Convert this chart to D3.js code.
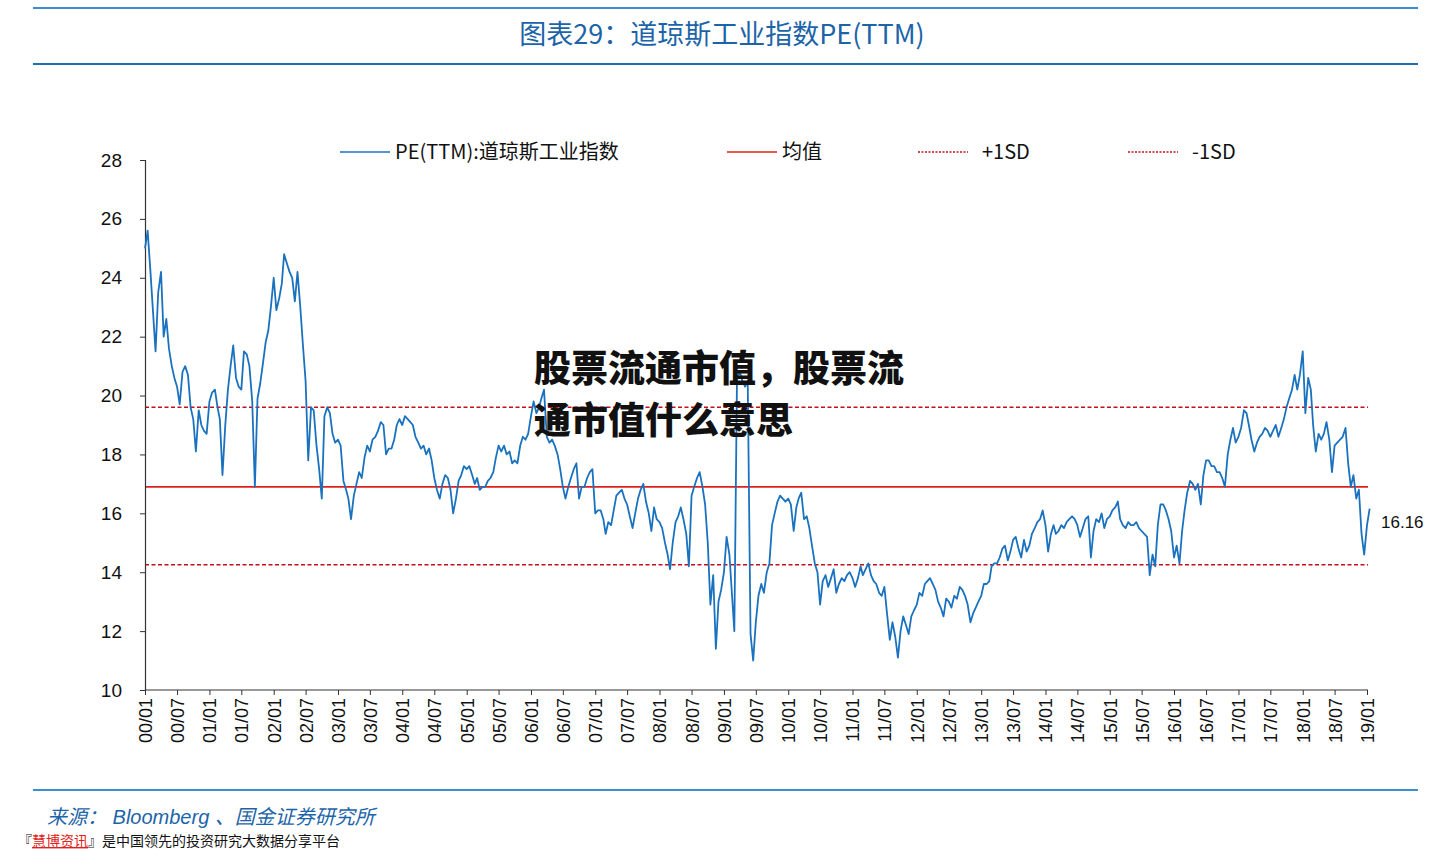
<!DOCTYPE html>
<html><head><meta charset="utf-8">
<script src="https://cdn.jsdelivr.net/npm/d3@7"></script>
<style>
html,body{margin:0;padding:0;background:#fff;}
svg{display:block;}
</style></head>
<body>
<svg id="chart" width="1440" height="849"></svg>
<script>
// ---------- data ----------
const titleText = "图表29：道琼斯工业指数PE(TTM)";
const legendLabels = ["PE(TTM):道琼斯工业指数", "均值", "+1SD", "-1SD"];
const sourceText = "来源： Bloomberg 、国金证券研究所";
const overlayLines = ["股票流通市值，股票流", "通市值什么意思"];
const yTicks = [10, 12, 14, 16, 18, 20, 22, 24, 26, 28];
const startDate = "2000-01-01";   // half-monthly observations (1st and 16th)
const endTickDate = "2019-01-01";
const meanValue = 16.9;
const plus1SD = 19.6;
const minus1SD = 14.25;
const lastValue = 16.16;

// PE(TTM), two readings per month
const peValues = [
  // 2000
  25.0, 25.6, 24.2, 22.8, 21.5, 23.5, 24.2, 22.0, 22.6, 21.6, 21.0, 20.6, 20.3, 19.7, 20.8, 21.0, 20.7, 19.6, 19.2, 18.1, 19.5, 19.0, 18.8, 18.7,
  // 2001
  19.8, 20.1, 20.2, 19.6, 19.2, 17.3, 19.0, 20.2, 21.0, 21.7, 20.6, 20.3, 20.2, 21.5, 21.4, 21.0, 19.8, 16.9, 19.9, 20.4, 21.1, 21.8, 22.2, 23.0,
  // 2002
  24.0, 22.9, 23.3, 23.8, 24.8, 24.5, 24.2, 24.0, 23.2, 24.2, 23.0, 21.7, 20.5, 17.8, 19.6, 19.5, 18.3, 17.5, 16.5, 19.3, 19.6, 19.4, 18.7, 18.4,
  // 2003
  18.5, 18.3, 17.1, 16.8, 16.5, 15.8, 16.6, 17.0, 17.4, 17.2, 17.9, 18.3, 18.1, 18.5, 18.6, 18.8, 19.1, 19.0, 18.0, 18.2, 18.2, 18.5, 19.0, 19.2,
  // 2004
  19.0, 19.3, 19.2, 19.1, 19.0, 18.6, 18.4, 18.2, 18.3, 18.0, 18.2, 17.8, 17.2, 16.8, 16.5, 17.0, 17.3, 17.2, 16.8, 16.0, 16.5, 17.1, 17.3, 17.6,
  // 2005
  17.5, 17.6, 17.3, 17.0, 17.2, 16.8, 16.9, 16.9, 17.1, 17.2, 17.4, 17.9, 18.3, 18.1, 18.3, 18.0, 18.1, 17.7, 17.8, 17.7, 18.3, 18.6, 18.5, 18.7,
  // 2006
  19.3, 19.8, 19.4, 19.6, 19.9, 20.2, 18.6, 18.4, 18.5, 18.3, 18.0, 17.5, 16.9, 16.5, 16.9, 17.2, 17.5, 17.7, 16.5, 16.9, 16.9, 17.2, 17.4, 17.5,
  // 2007
  16.0, 16.1, 16.1, 15.8, 15.3, 15.7, 15.6, 16.1, 16.6, 16.7, 16.8, 16.5, 16.3, 15.9, 15.5, 16.0, 16.5, 16.8, 17.0, 16.4, 16.0, 15.4, 16.2, 15.8,
  // 2008
  15.7, 15.5, 15.0, 14.6, 14.1, 15.0, 15.7, 15.9, 16.2, 15.8, 15.3, 14.2, 16.6, 16.9, 17.2, 17.4, 16.9, 16.3, 15.0, 12.9, 13.9, 11.4, 13.0, 13.4,
  // 2009
  14.0, 15.2, 14.6, 13.2, 12.0, 20.6, 20.8, 20.5, 20.3, 20.5, 11.9, 11.0, 12.3, 13.2, 13.6, 13.3, 14.0, 14.3, 15.6, 16.0, 16.4, 16.6, 16.5, 16.4,
  // 2010
  16.5, 16.3, 15.4, 16.2, 16.5, 16.7, 15.8, 15.9, 15.5, 14.9, 14.3, 14.0, 12.9, 13.7, 13.9, 13.5, 13.8, 14.1, 13.3, 13.6, 13.8, 13.7, 13.9, 14.0,
  // 2011
  13.8, 13.5, 13.8, 14.2, 13.9, 14.1, 14.3, 13.9, 13.7, 13.6, 13.3, 13.2, 13.5, 12.6, 11.7, 12.3, 11.8, 11.1, 12.0, 12.5, 12.2, 11.9, 12.5, 12.7,
  // 2012
  12.9, 13.3, 13.2, 13.6, 13.7, 13.8, 13.6, 13.4, 13.0, 12.8, 12.5, 13.1, 13.0, 12.8, 13.2, 13.1, 13.5, 13.4, 13.2, 12.9, 12.3, 12.6, 12.8, 13.0,
  // 2013
  13.2, 13.6, 13.6, 13.7, 14.2, 14.3, 14.3, 14.5, 14.8, 14.9, 14.4, 14.7, 15.1, 15.2, 14.8, 14.5, 15.1, 14.7, 14.9, 15.3, 15.5, 15.7, 15.8, 16.1,
  // 2014
  15.6, 14.7, 15.3, 15.6, 15.3, 15.4, 15.6, 15.5, 15.7, 15.8, 15.9, 15.8, 15.6, 15.2, 15.5, 15.8, 15.9, 14.5, 15.4, 15.8, 15.7, 16.0, 15.5, 15.8,
  // 2015
  15.9, 16.1, 16.2, 16.4, 15.8, 15.6, 15.5, 15.7, 15.6, 15.6, 15.7, 15.5, 15.4, 15.3, 15.2, 13.9, 14.6, 14.2, 15.6, 16.3, 16.3, 16.1, 15.8, 15.4,
  // 2016
  14.5, 14.9, 14.3, 15.4, 16.1, 16.7, 17.1, 17.0, 16.8, 17.0, 16.3, 17.3, 17.8, 17.8, 17.6, 17.6, 17.4, 17.4, 17.2, 16.9, 18.0, 18.5, 18.9, 18.4,
  // 2017
  18.6, 18.9, 19.5, 19.4, 19.0, 18.5, 18.1, 18.4, 18.6, 18.7, 18.9, 18.8, 18.6, 18.8, 19.0, 18.6, 18.9, 19.2, 19.6, 19.9, 20.2, 20.7, 20.2, 20.7,
  // 2018
  21.5, 19.4, 20.6, 20.2, 19.0, 18.1, 18.7, 18.5, 18.7, 19.1, 18.5, 17.4, 18.3, 18.4, 18.5, 18.6, 18.9, 17.7, 16.9, 17.3, 16.5, 16.8, 15.3, 14.6,
  // 2019
  15.6, 16.16
];

// ---------- drawing ----------
const svg = d3.select("#chart");
const margin = {left: 145, right: 1368, top: 160, bottom: 690};

const t0 = d3.isoParse(startDate + "T00:00:00");
const dates = peValues.map((v, i) => new Date(t0.getFullYear() + Math.floor(i / 24), Math.floor((i % 24) / 2), (i % 2) ? 16 : 1));
const data = dates.map((d, i) => ({date: d, pe: peValues[i]}));

const x = d3.scaleTime()
  .domain([t0, d3.isoParse(endTickDate + "T00:00:00")])
  .range([margin.left, 1367]);
const y = d3.scaleLinear().domain([10, 28]).range([margin.bottom, margin.top]);

const blueDark = "#1c64a8";
const fontLatin = "'Liberation Sans', Arial, 'Noto Sans CJK SC', sans-serif";

// header rules
svg.append("line").attr("x1", 33).attr("x2", 1418).attr("y1", 8).attr("y2", 8)
  .attr("stroke", "#3b8fd0").attr("stroke-width", 2);
svg.append("line").attr("x1", 33).attr("x2", 1418).attr("y1", 64).attr("y2", 64)
  .attr("stroke", "#1f6fae").attr("stroke-width", 2);
svg.append("text").attr("x", 722).attr("y", 44).attr("text-anchor", "middle")
  .attr("font-family", "'Liberation Sans Narrow', 'Noto Sans CJK SC', sans-serif")
  .attr("font-size", 27).attr("fill", blueDark).text(titleText);

// reference lines
const refG = svg.append("g");
refG.append("line").attr("x1", margin.left).attr("x2", margin.right)
  .attr("y1", y(meanValue)).attr("y2", y(meanValue))
  .attr("stroke", "#e0201c").attr("stroke-width", 1.7);
[plus1SD, minus1SD].forEach(v => {
  refG.append("line").attr("x1", margin.left).attr("x2", margin.right)
    .attr("y1", y(v)).attr("y2", y(v))
    .attr("stroke", "#c0101a").attr("stroke-width", 1.5).attr("stroke-dasharray", "4,2.5");
});

// axes
const yAxis = svg.append("g").attr("transform", `translate(${margin.left},0)`)
  .call(d3.axisLeft(y).tickValues(yTicks).tickSize(5).tickPadding(18).tickFormat(d3.format("d")));
yAxis.selectAll("text").attr("font-family", fontLatin).attr("font-size", 19).attr("fill", "#111");
yAxis.select(".domain").attr("stroke", "#333").attr("stroke-width", 1.2);
yAxis.selectAll(".tick line").attr("stroke", "#333");

const xTicks = d3.timeMonth.every(6).range(t0, d3.timeDay.offset(x.domain()[1], 1));
const xAxis = svg.append("g").attr("transform", `translate(0,${margin.bottom})`)
  .call(d3.axisBottom(x).tickValues(xTicks).tickSize(5).tickFormat(d3.timeFormat("%y/%m")));
xAxis.select(".domain").attr("stroke", "#333").attr("stroke-width", 1.2)
  .attr("d", `M${margin.left},0H${margin.right}`);
xAxis.selectAll(".tick line").attr("stroke", "#333");
xAxis.selectAll("text")
  .attr("font-family", fontLatin).attr("font-size", 18).attr("fill", "#111")
  .attr("transform", "rotate(-90)").attr("text-anchor", "end")
  .attr("x", -8).attr("y", 0).attr("dy", "0.36em");

// series line
const line = d3.line().x(d => x(d.date)).y(d => y(d.pe));
svg.append("path").datum(data).attr("d", line)
  .attr("fill", "none").attr("stroke", "#1a72bf").attr("stroke-width", 1.8)
  .attr("stroke-linejoin", "round");

// last value label
svg.append("text").attr("x", 1381).attr("y", y(lastValue) + 19)
  .attr("font-family", fontLatin).attr("font-size", 17).attr("fill", "#111")
  .text(d3.format(".2f")(lastValue));

// legend
const legendItems = [
  {x: 340, label: legendLabels[0], color: "#1a72bf", dash: null, w: 1.6},
  {x: 727, label: legendLabels[1], color: "#e0201c", dash: null, w: 1.6},
  {x: 918, label: legendLabels[2], color: "#c0101a", dash: "2,1.5", w: 1.3},
  {x: 1128, label: legendLabels[3], color: "#c0101a", dash: "2,1.5", w: 1.3}
];
const lg = svg.append("g");
legendItems.forEach(it => {
  lg.append("line").attr("x1", it.x).attr("x2", it.x + 50).attr("y1", 152).attr("y2", 152)
    .attr("stroke", it.color).attr("stroke-width", it.w).attr("stroke-dasharray", it.dash);
  lg.append("text").attr("x", it.x + 55 + (it.dash ? 9 : 0)).attr("y", 159)
    .attr("font-family", "'Liberation Sans Narrow', 'Noto Sans CJK SC', sans-serif")
    .attr("font-size", 20).attr("fill", "#111").text(it.label);
});

// footer
svg.append("line").attr("x1", 33).attr("x2", 1418).attr("y1", 790).attr("y2", 790)
  .attr("stroke", "#3b8fd0").attr("stroke-width", 2);
svg.append("text").attr("x", 47).attr("y", 824)
  .attr("font-family", "'Liberation Sans', 'Noto Sans CJK SC', sans-serif")
  .attr("font-style", "italic").attr("font-size", 20).attr("fill", blueDark).text(sourceText);
const ft = svg.append("text").attr("x", 18).attr("y", 846)
  .attr("font-family", "'Noto Sans CJK SC', sans-serif").attr("font-size", 14).attr("fill", "#111");
ft.append("tspan").text("『");
ft.append("tspan").attr("fill", "#e02020").attr("text-decoration", "underline").text("慧博资讯");
ft.append("tspan").text("』是中国领先的投资研究大数据分享平台");

// overlay headline
overlayLines.forEach((t, i) => {
  svg.append("text").attr("x", 534).attr("y", 382 + i * 52)
    .attr("font-family", "'Noto Sans CJK SC', sans-serif").attr("font-weight", 900)
    .attr("font-size", 37).attr("fill", "#111").text(t);
});
</script>
</body></html>
